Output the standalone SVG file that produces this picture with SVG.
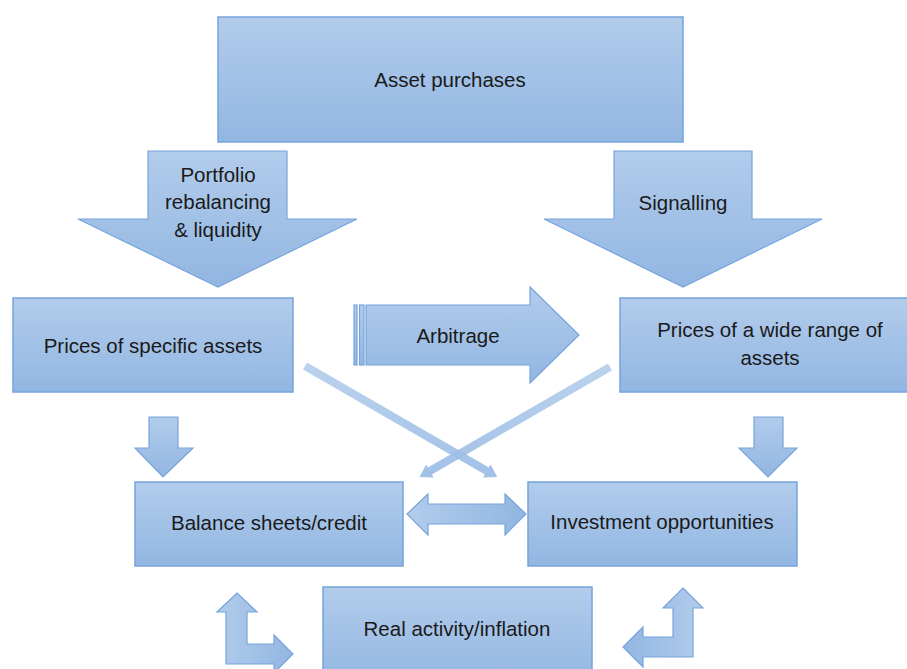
<svg xmlns="http://www.w3.org/2000/svg" width="907" height="669" viewBox="0 0 907 669">
  <defs>
    <linearGradient id="fillV" x1="0" y1="0" x2="0" y2="1">
      <stop offset="0" stop-color="#b2cceb"/>
      <stop offset="1" stop-color="#92b6e2"/>
    </linearGradient>
    <linearGradient id="fillH" x1="0" y1="0" x2="1" y2="0">
      <stop offset="0" stop-color="#b2cceb"/>
      <stop offset="1" stop-color="#92b6e2"/>
    </linearGradient>
    <linearGradient id="fillHr" x1="1" y1="0" x2="0" y2="0">
      <stop offset="0" stop-color="#b2cceb"/>
      <stop offset="1" stop-color="#92b6e2"/>
    </linearGradient>
    <linearGradient id="fillLine" x1="0" y1="0" x2="1" y2="0">
      <stop offset="0" stop-color="#b3cdeb"/>
      <stop offset="1" stop-color="#98bae4"/>
    </linearGradient>
  </defs>
  <style>
    .box { fill: url(#fillV); stroke: #76a4dc; stroke-width: 1.5; }
    .arr { fill: url(#fillV); stroke: #76a4dc; stroke-width: 1.2; stroke-linejoin: miter; }
    .arrH { fill: url(#fillH); stroke: #76a4dc; stroke-width: 1.2; }
    .arrHr { fill: url(#fillHr); stroke: #76a4dc; stroke-width: 1.2; }
    .link { fill: url(#fillLine); stroke: none; }
    .lbl { font-family: "Liberation Sans", Arial, sans-serif; font-size: 20.5px; fill: #1a1a1a; text-anchor: middle; }
  </style>

  <rect width="907" height="669" fill="#ffffff"/>

  <!-- Top source node -->
  <g id="asset-purchases">
    <rect class="box" x="218" y="17" width="465" height="125"/>
    <text class="lbl" x="450" y="87">Asset purchases</text>
  </g>

  <!-- Channel block arrows -->
  <g id="portfolio-rebalancing">
    <polygon class="arr" points="148,151 287,151 287,219 357,219 218,287 78,219 148,219"/>
    <text class="lbl" x="218" y="182">Portfolio</text>
    <text class="lbl" x="218" y="209">rebalancing</text>
    <text class="lbl" x="218" y="237">&amp; liquidity</text>
  </g>

  <g id="signalling">
    <polygon class="arr" points="614,151 752,151 752,219 822,219 683,287 544,219 614,219"/>
    <text class="lbl" x="683" y="210">Signalling</text>
  </g>

  <!-- Price nodes -->
  <g id="prices-specific">
    <rect class="box" x="13" y="298" width="280" height="94"/>
    <text class="lbl" x="153" y="353">Prices of specific assets</text>
  </g>

  <g id="prices-wide">
    <rect class="box" x="620" y="298" width="300" height="94"/>
    <text class="lbl" x="770" y="337">Prices of a wide range of</text>
    <text class="lbl" x="770" y="365">assets</text>
  </g>

  <g id="arbitrage">
    <rect class="arr" x="354" y="305" width="3" height="60"/>
    <rect class="arr" x="359.5" y="305" width="4.5" height="60"/>
    <polygon class="arr" points="366,305 530,305 530,287 579,335 530,383 530,365 366,365"/>
    <text class="lbl" x="458" y="343">Arbitrage</text>
  </g>

  <!-- Effect nodes -->
  <g id="balance-sheets">
    <rect class="box" x="135" y="482" width="268" height="84"/>
    <text class="lbl" x="269" y="530">Balance sheets/credit</text>
  </g>

  <g id="investment-opportunities">
    <rect class="box" x="528" y="482" width="269" height="84"/>
    <text class="lbl" x="662" y="529">Investment opportunities</text>
  </g>

  <g id="real-activity">
    <rect class="box" x="323" y="587" width="269" height="100"/>
    <text class="lbl" x="457" y="636">Real activity/inflation</text>
  </g>

  <!-- Connectors -->
  <g id="connectors">
    <!-- straight down arrows -->
    <polygon class="arr" points="149,417 178,417 178,448 193,448 163,477 135,448 149,448"/>
    <polygon class="arr" points="754,417 783,417 783,448 797,448 768,477 739,448 754,448"/>

    <!-- crossing thin arrows -->
    <g transform="translate(305,366) rotate(30)" opacity="0.9">
      <polygon class="link" points="0,-4 210,-4 210,-7.5 222,0 210,7.5 210,4 0,4"/>
    </g>
    <g transform="translate(610,367) rotate(150)" opacity="0.9">
      <polygon class="link" points="0,-4 208,-4 208,-7.5 220,0 208,7.5 208,4 0,4"/>
    </g>

    <!-- two-way arrow between balance sheets and investment -->
    <polygon class="arrH" points="407,514 428,494 428,504 505,504 505,494 526,514 505,535 505,524 428,524 428,535"/>

    <!-- bent arrows to real activity -->
    <polygon class="arrH" points="237,593 257,612 247,612 247,644 274,644 274,635 293,654 274,673 274,664 226,664 226,612 217,612"/>
    <polygon class="arrHr" points="683,588 703,608 693,608 693,657 643,657 643,667 623,647 643,627 643,637 673,637 673,608 663,608"/>
  </g>
</svg>
